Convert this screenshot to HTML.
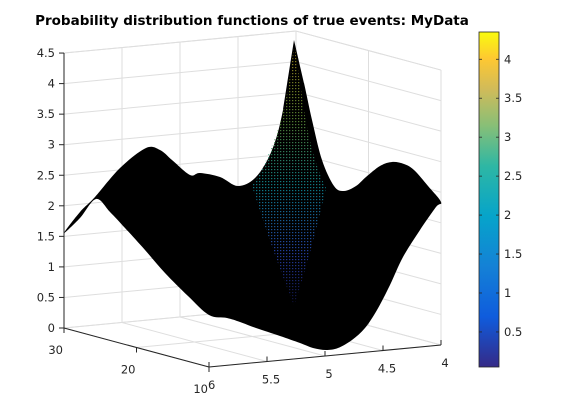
<!DOCTYPE html>
<html><head><meta charset="utf-8"><style>
html,body{margin:0;padding:0;background:#fff;}
svg{display:block;font-family:"DejaVu Sans","Liberation Sans",sans-serif;}
</style></head><body>
<svg id="chart" width="570" height="413" viewBox="0 0 570 413">
<defs>
<linearGradient id="parula" x1="0" y1="1" x2="0" y2="0">
<stop offset="0" stop-color="#352a87"/><stop offset="0.15" stop-color="#0f5cdd"/>
<stop offset="0.3" stop-color="#1481d6"/><stop offset="0.45" stop-color="#06a4ca"/>
<stop offset="0.6" stop-color="#2eb7a4"/><stop offset="0.72" stop-color="#87bf77"/>
<stop offset="0.83" stop-color="#d1bb59"/><stop offset="0.92" stop-color="#fec832"/>
<stop offset="1" stop-color="#f9fb0e"/></linearGradient>
<linearGradient id="peakgrad" gradientUnits="userSpaceOnUse" x1="0" y1="40" x2="0" y2="308">
<stop offset="0" stop-color="#c8a020"/><stop offset="0.3" stop-color="#6aa040"/>
<stop offset="0.55" stop-color="#10a0b0"/><stop offset="0.8" stop-color="#3050d0"/>
<stop offset="1" stop-color="#101040"/></linearGradient>
<pattern id="dots" width="3" height="3" patternUnits="userSpaceOnUse">
<rect width="3" height="3" fill="#000"/><rect x="1" y="1" width="1.3" height="1.2" fill="#fff"/>
</pattern>
<mask id="dotmask" maskUnits="userSpaceOnUse"><rect width="570" height="413" fill="url(#dots)"/></mask>
</defs>
<text x="252" y="25" text-anchor="middle" font-size="13.5" font-weight="bold" fill="#000">Probability distribution functions of true events: MyData</text>
<g id="grid"></g>
<g id="axes"></g>
<g id="surf"></g>
<g id="cbar"></g>
</svg>
<script>
const zTicks=[0,0.5,1,1.5,2,2.5,3,3.5,4,4.5];
const zTickLabels=["0","0.5","1","1.5","2","2.5","3","3.5","4","4.5"];
const xTicks=[30,20,10];
const xTickLabels=["30","20","10"];
const yTicks=[6,5.5,5,4.5,4];
const yTickLabels=["6","5.5","5","4.5","4"];
const cTicks=[0.5,1,1.5,2,2.5,3,3.5,4];
const cTickLabels=["0.5","1","1.5","2","2.5","3","3.5","4"];
const cMin=0.05, cMax=4.35;
const NS="http://www.w3.org/2000/svg";
function P(x,y,z){const a=(30-x)/20,b=(6-y)/2;return [64+a*145+b*232,328+a*39-b*22-z*61.1];}
function mk(t,at,parent){const e=document.createElementNS(NS,t);for(const k in at)e.setAttribute(k,at[k]);parent.appendChild(e);return e;}
const grid=document.getElementById('grid'),axes=document.getElementById('axes'),surf=document.getElementById('surf'),cbar=document.getElementById('cbar');
function line(p,q,c,w,par,name){const l=mk('line',{x1:p[0],y1:p[1],x2:q[0],y2:q[1],stroke:c,'stroke-width':w},par);

return l;}
const gc="#dedede";
zTicks.forEach(z=>{line(P(30,6,z),P(30,4,z),gc,1,grid,'z-gridline');line(P(30,4,z),P(10,4,z),gc,1,grid,'z-gridline');});
yTicks.forEach(y=>{line(P(30,y,0),P(30,y,4.5),gc,1,grid,'y-gridline');line(P(30,y,0),P(10,y,0),gc,1,grid,'y-floor-gridline');});
xTicks.forEach(x=>{line(P(x,4,0),P(x,4,4.5),gc,1,grid,'x-gridline');line(P(x,6,0),P(x,4,0),gc,1,grid,'x-floor-gridline');});
line(P(30,6,4.5),P(30,4,4.5),gc,1,grid,'box-edge');line(P(30,4,4.5),P(10,4,4.5),gc,1,grid,'box-edge');
line(P(10,4,0),P(10,4,4.5),gc,1,grid,'box-edge');
const ac="#262626";
line(P(30,6,0),P(30,6,4.5),ac,1,axes,'z-axis');
line(P(30,6,0),P(10,6,0),ac,1,axes,'x-axis');
line(P(10,6,0),P(10,4,0),ac,1,axes,'y-axis');
zTicks.forEach((z,i)=>{const p=P(30,6,z);line([p[0]-5,p[1]],p,ac,1,axes,'z-tick');
const t=mk('text',{x:p[0]-9,y:p[1]+4,'text-anchor':'end','font-size':11.5,fill:ac},axes);t.textContent=zTickLabels[i];

});
xTicks.forEach((x,i)=>{const p=P(x,6,0);line(p,[p[0],p[1]+5],ac,1,axes,'x-tick');
const t=mk('text',{x:p[0]-1,y:p[1]+26,'text-anchor':'end','font-size':11.5,fill:ac},axes);t.textContent=xTickLabels[i];

});
yTicks.forEach((y,i)=>{const p=P(10,y,0);line(p,[p[0],p[1]-5],ac,1,axes,'y-tick');
const t=mk('text',{x:p[0]+(i==0?-1:4),y:p[1]+22,'text-anchor':i==0?'start':'middle','font-size':11.5,fill:ac},axes);t.textContent=yTickLabels[i];

});
const outline=[[64,233],[80,212],[95,197],[120,168],[146,148],[160,150],[172,160],[190,175],[200,173],[220,177],[238,186],[256,177],[272,150],[283,110],[294,40],[304,83],[312,120],[322,160],[334,186],[344,191],[356,186],[366,177],[380,166],[392,162],[404,164],[414,170],[428,186],[441,202],[436,207],[420,230],[403,257],[390,285],[377,310],[365,328],[352,340],[338,348],[326,350],[313,348],[300,343],[280,336],[256,328],[240,322],[227,318],[209,315],[188,296],[165,273],[145,250],[125,228],[110,212],[96,199],[80,218]];
function smooth(pts){let d='M'+pts[0].join(',');const n=pts.length;
for(let i=0;i<n;i++){const p0=pts[(i-1+n)%n],p1=pts[i],p2=pts[(i+1)%n],p3=pts[(i+2)%n];
const k=(p1[1]<60||p2[1]<60)?0:1/6;
d+=' C'+(p1[0]+(p2[0]-p0[0])*k)+','+(p1[1]+(p2[1]-p0[1])*k)+' '+(p2[0]-(p3[0]-p1[0])*k)+','+(p2[1]-(p3[1]-p1[1])*k)+' '+p2[0]+','+p2[1];}
return d+'Z';}
const sp=mk('path',{d:smooth(outline),fill:'#000'},surf);


const peak=mk('path',{d:'M294,42 Q288,110 270,150 Q262,172 252,186 Q272,250 294,306 Q312,250 326,188 Q312,160 304,110 Z',fill:'url(#peakgrad)',mask:'url(#dotmask)',opacity:0.75},surf);


const cx=479,cw=20,ct=32,cb=367;
function cy(v){return cb-(v-cMin)/(cMax-cMin)*(cb-ct);}
const r=mk('rect',{x:cx,y:ct,width:cw,height:cb-ct,fill:'url(#parula)',stroke:ac,'stroke-width':0.8},cbar);


cTicks.forEach((v,i)=>{const y=cy(v);line([cx+cw-3,y],[cx+cw,y],ac,0.8,cbar,'colorbar-tick');line([cx,y],[cx+3,y],ac,0.8,cbar,'colorbar-tick');
const t=mk('text',{x:cx+cw+5,y:y+4,'font-size':11.5,fill:ac},cbar);t.textContent=cTickLabels[i];

});
</script>
</body></html>
